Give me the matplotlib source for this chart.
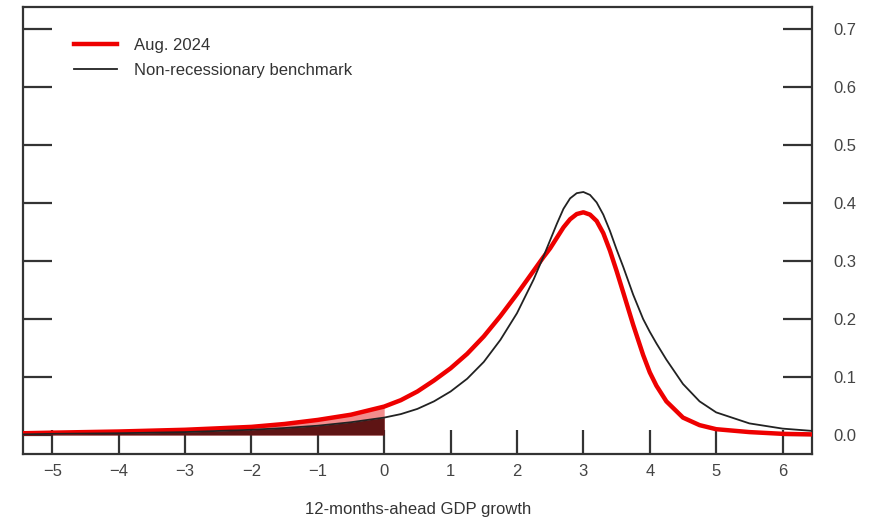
import matplotlib
matplotlib.use("Agg")
import matplotlib.pyplot as plt
import numpy as np

# ---- data ----
growth = [-5.45, -5, -4, -3, -2, -1.5, -1, -0.5, 0, 0.25, 0.5, 0.75, 1, 1.25, 1.5, 1.75,
          2, 2.25, 2.4, 2.5, 2.6, 2.7, 2.8, 2.9, 3.0, 3.1, 3.2, 3.3, 3.4, 3.5, 3.6, 3.75, 3.9,
          4.0, 4.1, 4.25, 4.5, 4.75, 5, 5.5, 6, 6.45]
aug2024 = [0.003, 0.004, 0.006, 0.009, 0.014, 0.019, 0.026, 0.035, 0.049, 0.060, 0.075, 0.094,
           0.115, 0.140, 0.170, 0.205, 0.243, 0.283, 0.307, 0.322, 0.340, 0.358, 0.372, 0.381,
           0.384, 0.380, 0.369, 0.348, 0.318, 0.283, 0.246, 0.190, 0.138, 0.108, 0.085, 0.058,
           0.030, 0.017, 0.010, 0.005, 0.002, 0.001]
benchmark = [0.001, 0.002, 0.003, 0.005, 0.009, 0.012, 0.016, 0.022, 0.030, 0.036, 0.045, 0.058,
             0.075, 0.097, 0.126, 0.164, 0.210, 0.268, 0.308, 0.336, 0.364, 0.390, 0.408, 0.417,
             0.419, 0.414, 0.401, 0.380, 0.352, 0.320, 0.290, 0.242, 0.200, 0.178, 0.158, 0.130,
             0.088, 0.058, 0.039, 0.020, 0.011, 0.007]
xticks = [-5, -4, -3, -2, -1, 0, 1, 2, 3, 4, 5, 6]
yticks = [0.0, 0.1, 0.2, 0.3, 0.4, 0.5, 0.6, 0.7]
series_labels = ["Aug. 2024", "Non-recessionary benchmark"]
xlabel = "12-months-ahead GDP growth"

plt.rcParams['font.family'] = ['Liberation Sans', 'DejaVu Sans']

fig = plt.figure(figsize=(8.85, 5.19), dpi=100)
ax = fig.add_axes([0.026, 0.125, 0.892, 0.8615])

g = np.array(growth)
r = np.array(aug2024)
b = np.array(benchmark)
m = g <= 0

ax.fill_between(g[m], 0, r[m], color='#f28c8c', lw=0, zorder=1)
ax.fill_between(g[m], 0, b[m], color='#5e1414', lw=0, zorder=2)
l1, = ax.plot(g, r, color='#ee0000', lw=3.2, zorder=3, solid_joinstyle='round')
l2, = ax.plot(g, b, color='#222222', lw=1.3, zorder=4, solid_joinstyle='round')

ax.set_xlim(-5.44, 6.45)
ax.set_ylim(-0.033, 0.738)
ax.set_xticks(xticks)
ax.set_xticklabels([str(t).replace('-', '\u2212') for t in xticks])
ax.set_yticks(yticks)
ax.set_yticklabels([f"{t:.1f}" for t in yticks])

ax.tick_params(axis='x', direction='in', length=17, width=1.6, color='#333333',
               labelsize=12, labelcolor='#444444', pad=7)
ax.tick_params(axis='y', direction='in', length=21, width=1.6, color='#333333',
               left=True, right=True, labelleft=False, labelright=True,
               labelsize=12, labelcolor='#444444', pad=15)
for s in ax.spines.values():
    s.set_linewidth(1.6)
    s.set_color('#333333')

ax.set_xlabel(xlabel, fontsize=12, color='#333333', labelpad=17)

leg = ax.legend([l1, l2], series_labels, loc='upper left', bbox_to_anchor=(0.045, 0.965),
                frameon=False, fontsize=12, handlelength=2.6, handletextpad=1.0,
                labelspacing=0.6, labelcolor='#333333')

fig.savefig("out.png", dpi=100)
